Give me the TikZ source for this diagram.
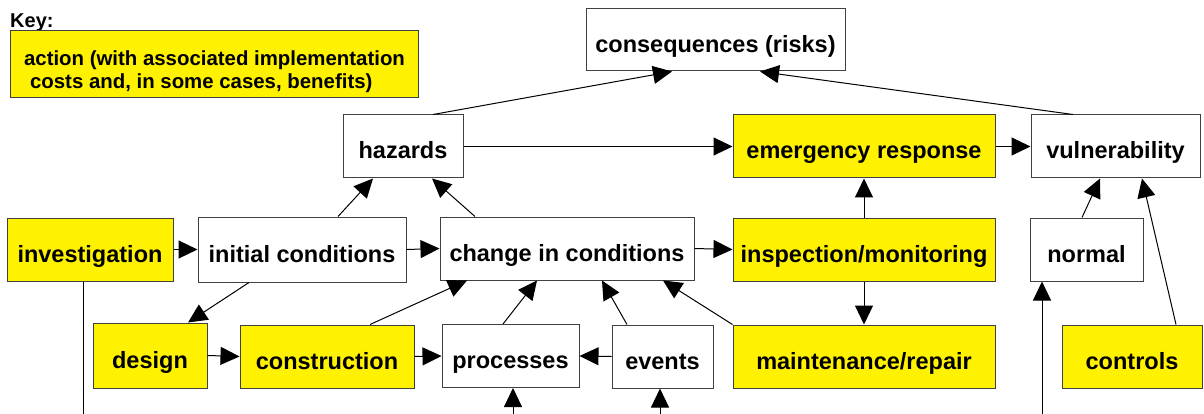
\documentclass[tikz,border=0pt]{standalone}
\usepackage{fontspec}
\setmainfont{Liberation Sans}
\usetikzlibrary{arrows.meta}

\tikzset{
  box/.style={draw=black!75, line width=1pt, fill=white, minimum height=63pt, inner sep=0pt,
    text height=27pt, text depth=2pt, font=\fontsize{23.5}{28}\selectfont\bfseries},
  action/.style={box, fill=yellow},
  link/.style={line width=1pt, -{Triangle[length=19pt,width=18pt]}},
  plainlink/.style={line width=1pt},
}

\begin{document}
\begin{tikzpicture}[x=1pt, y=-1pt]
  \useasboundingbox (0,0) rectangle (1204,414);
  \node [anchor=base west, inner sep=0pt, font=\fontsize{20}{24}\selectfont\bfseries] (keylabel) at (10,28) {Key:};
  \node [draw=black!75, line width=1pt, fill=yellow, minimum width=408pt, minimum height=67pt,
    inner xsep=11pt, inner ysep=0pt, align=left, anchor=north west,
    font=\fontsize{20.4}{23}\selectfont\bfseries] (key) at (10,30)
    {\rule{0pt}{30pt}action (with associated implementation\\\hspace*{6pt}costs and, in some cases, benefits)};

  \node [box, minimum width=259pt, minimum height=62pt] (conseq) at (715.5,40) {consequences (risks)};
  \node [box, minimum width=120pt] (hazards) at (403,146.5) {hazards};
  \node [action, minimum width=262pt] (emerg) at (864,146.5) {emergency response};
  \node [box, minimum width=169pt] (vuln) at (1115.5,146.5) {vulnerability};
  \node [action, minimum width=166pt] (invest) at (90,249.5) {investigation};
  \node [box, minimum width=208pt, minimum height=65pt] (initial) at (302,249.5) {initial conditions};
  \node [box, minimum width=254pt] (change) at (567,248.5) {change in conditions};
  \node [action, minimum width=262pt] (inspect) at (864,249.5) {inspection/monitoring};
  \node [box, minimum width=113pt] (normal) at (1086.5,249.5) {normal};
  \node [action, minimum width=114pt, minimum height=65pt] (design) at (150,355.5) {design};
  \node [action, minimum width=174pt] (constr) at (327,356.5) {construction};
  \node [box, minimum width=137pt] (proc) at (510.5,356) {processes};
  \node [box, minimum width=101pt] (events) at (662.5,356.5) {events};
  \node [action, minimum width=262pt] (maint) at (864,356.5) {maintenance/repair};
  \node [action, minimum width=140pt] (controls) at (1132,356.5) {controls};

  \coordinate (investout) at (83,414);
  \coordinate (procin) at (513,414);
  \coordinate (eventsin) at (660,414);
  \coordinate (normalin) at (1042,414);

  \draw [link] ([xshift=30pt]hazards.north) -- ([xshift=-43.5pt]conseq.south);
  \draw [link] ([xshift=-42.5pt]vuln.north) -- ([xshift=44.5pt]conseq.south);
  \draw [link] (hazards.east) -- (emerg.west);
  \draw [link] (emerg.east) -- (vuln.west);
  \draw [link] ([xshift=36pt]initial.north) -- ([xshift=-30pt]hazards.south);
  \draw [link] ([xshift=-92pt]change.north) -- ([xshift=29pt]hazards.south);
  \draw [link] (inspect.north) -- (emerg.south);
  \draw [link] (inspect.south) -- (maint.north);
  \draw [link] (invest.east) -- (initial.west);
  \draw [link] (initial.east) -- (change.west);
  \draw [link] (change.east) -- (inspect.west);
  \draw [link] ([xshift=-53pt]initial.south) -- ([xshift=38pt]design.north);
  \draw [link] (design.east) -- (constr.west);
  \draw [link] (constr.east) -- (proc.west);
  \draw [link] (events.west) -- (proc.east);
  \draw [link] ([xshift=43pt]constr.north) -- ([xshift=-100pt]change.south);
  \draw [link] ([xshift=-7.5pt]proc.north) -- ([xshift=-30pt]change.south);
  \draw [link] ([xshift=-35.5pt]events.north) -- ([xshift=35pt]change.south);
  \draw [link] (maint.north west) -- ([xshift=96pt]change.south);
  \draw [link] ([xshift=-4.5pt]normal.north) -- ([xshift=-15.5pt]vuln.south);
  \draw [link] ([xshift=44pt]controls.north) -- ([xshift=26.5pt]vuln.south);
  \draw [plainlink] ([xshift=-7pt]invest.south) -- (investout);
  \draw [link] (procin) -- ([xshift=2.5pt]proc.south);
  \draw [link] (eventsin) -- ([xshift=-2.5pt]events.south);
  \draw [link] (normalin) -- ([xshift=-44.5pt]normal.south);
\end{tikzpicture}
\end{document}
